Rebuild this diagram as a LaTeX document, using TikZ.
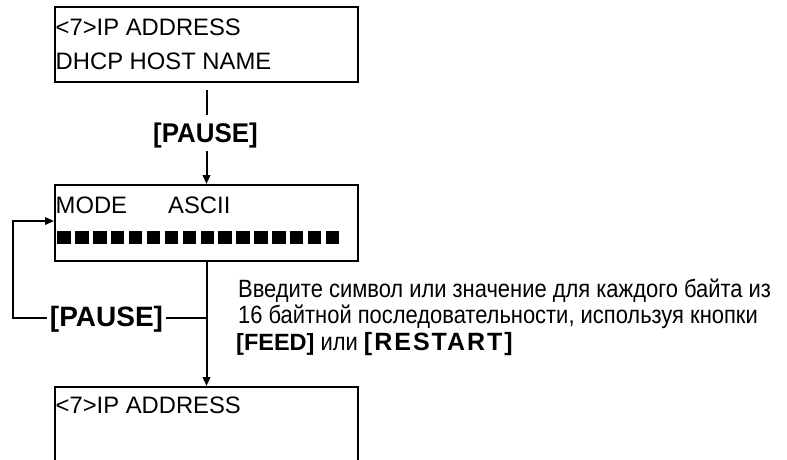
\documentclass[tikz,border=0pt]{standalone}
\usepackage{fontspec}
\setmainfont{Liberation Sans}
\newfontfamily\narrowfont[FakeStretch=0.877]{Liberation Sans}
\newfontfamily\spacedbold[LetterSpace=8]{Liberation Sans Bold}
\usetikzlibrary{arrows.meta}
\tikzset{
  lcd/.style={draw, line width=2pt, minimum width=303pt, inner sep=0pt, anchor=north west},
  lcdtext/.style={anchor=base west, inner sep=0pt, font=\fontsize{23.8}{24}\selectfont},
  keylabel/.style={inner xsep=3pt, inner ysep=8pt, text height=19.5pt, text depth=0pt,
                   font=\fontsize{27}{27}\selectfont\bfseries},
  note/.style={anchor=base west, inner sep=0pt, font=\fontsize{25}{25}\selectfont\narrowfont},
  conn/.style={line width=2pt},
  blk/.style={fill=black, draw=none}
}
\begin{document}
\begin{tikzpicture}[x=1pt,y=-1pt, >={Triangle[length=9pt,width=7.5pt]}]
\useasboundingbox (0,0) rectangle (787,459);
\clip (0,0) rectangle (787,459);
% box 1
\node[lcd, minimum height=75pt] (box1) at (54,6) {};
\node[lcdtext] (t1a) at (55.5,35) {<7>IP ADDRESS};
\node[lcdtext] (t1b) at (55.5,69) {DHCP HOST NAME};
% pause 1
\node[keylabel] (p1) at (205.5,133) {\scalebox{0.96}[1]{[PAUSE]}};
% box 2
\node[lcd, minimum height=76pt] (box2) at (54,184) {};
\node[lcdtext] (t2a) at (55.5,213) {MODE};
\node[lcdtext] (t2b) at (168,213) {ASCII};
\foreach \i in {0,...,15}{
  \fill[blk] (57.3+17.9*\i,231) rectangle ++(13.4,13.3);
}
% box 3
\node[lcd, minimum height=110pt] (box3) at (54,386) {};
\node[lcdtext] (t3a) at (55.5,413) {<7>IP ADDRESS};
% connectors
\draw[conn, shorten <=7pt] (box1.south) -- (box1.south |- p1.north);
\draw[conn, ->] (box2.north |- p1.south) -- (box2.north);
\draw[conn, ->] (box2.south) -- (box3.north);
% loop
\coordinate (j) at (205.5,318);
\node[keylabel, font=\fontsize{28}{28}\selectfont\bfseries] (p2) at (106.5,317) {[PAUSE]};
\coordinate (c1) at (13,318);
\coordinate (c2) at (13,221);
\draw[conn] (j) -- (p2.east |- j);
\draw[conn, ->] (p2.west |- j) -- (c1) -- (c2) -- (c2 -| box2.west);
% note
\node[note] (n1) at (238,297) {Введите символ или значение для каждого байта из};
\node[note] (n2) at (238,323) {16 байтной последовательности, используя кнопки};
\node[note] (n3) at (236,350) {{\normalfont\bfseries\fontsize{23.5}{24}\selectfont [FEED]} или {\spacedbold\fontsize{25}{25}\selectfont [RESTART]}};
\end{tikzpicture}
\end{document}
